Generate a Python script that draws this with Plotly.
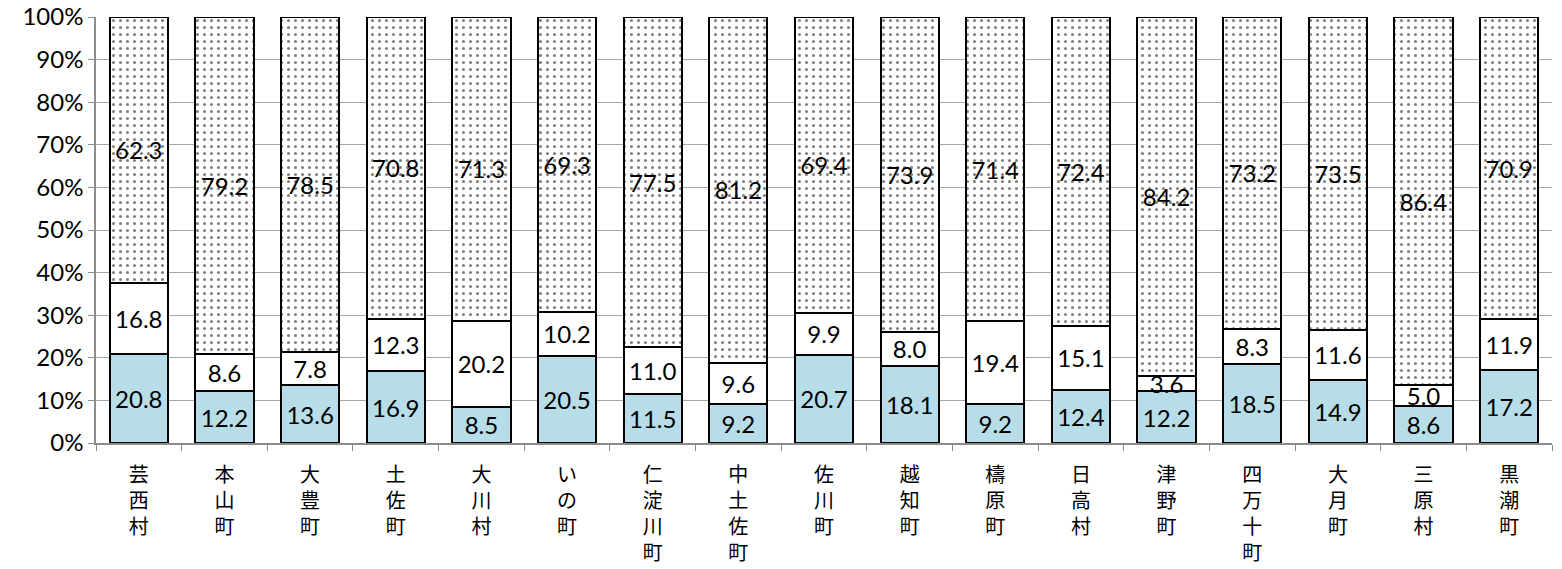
import plotly.graph_objects as go

# Municipalities (x-axis categories)
towns = ["芸西村", "本山町", "大豊町", "土佐町", "大川村", "いの町", "仁淀川町", "中土佐町",
         "佐川町", "越知町", "檮原町", "日高村", "津野町", "四万十町", "大月町", "三原村", "黒潮町"]

# Share of each segment (%), bottom to top
bottom_vals = [20.8, 12.2, 13.6, 16.9, 8.5, 20.5, 11.5, 9.2, 20.7, 18.1, 9.2, 12.4, 12.2, 18.5, 14.9, 8.6, 17.2]
middle_vals = [16.8, 8.6, 7.8, 12.3, 20.2, 10.2, 11.0, 9.6, 9.9, 8.0, 19.4, 15.1, 3.6, 8.3, 11.6, 5.0, 11.9]
top_vals = [62.3, 79.2, 78.5, 70.8, 71.3, 69.3, 77.5, 81.2, 69.4, 73.9, 71.4, 72.4, 84.2, 73.2, 73.5, 86.4, 70.9]

y_ticks = [0, 10, 20, 30, 40, 50, 60, 70, 80, 90, 100]
y_tick_text = [f"{v}%" for v in y_ticks]

# Vertical category labels: one character per line
tick_labels = ["<br>".join(list(t)) for t in towns]

num_font = dict(family="Lato, 'Noto Sans', sans-serif", size=24, color="black")
line = dict(color="black", width=2)

fig = go.Figure()
fig.add_bar(x=towns, y=bottom_vals, text=[f"{v:.1f}" for v in bottom_vals],
            marker=dict(color="#b7dde8", line=line))
fig.add_bar(x=towns, y=middle_vals, text=[f"{v:.1f}" for v in middle_vals],
            marker=dict(color="white", line=line))
fig.add_bar(x=towns, y=top_vals, text=[f"{v:.1f}" for v in top_vals],
            marker=dict(color="white", line=line,
                        pattern=dict(shape=".", fgcolor="black", bgcolor="white",
                                     size=7, solidity=0.15, fillmode="overlay")))

fig.update_traces(textposition="inside", insidetextanchor="middle", textangle=0,
                  textfont=num_font, cliponaxis=True, hoverinfo="skip")

fig.update_layout(
    barmode="stack",
    barnorm="percent",
    bargap=0.32,
    width=1562, height=569,
    margin=dict(l=96, r=10, t=17, b=126),
    paper_bgcolor="white", plot_bgcolor="white",
    showlegend=False,
    uniformtext=dict(mode="show", minsize=24),
    font=dict(family="Lato, 'Noto Sans', sans-serif", color="black"),
)
fig.update_yaxes(range=[0, 100], tickvals=y_ticks, ticktext=y_tick_text,
                 automargin=False,
                 showgrid=True, gridcolor="#a6a6a6", gridwidth=1,
                 showline=True, linecolor="#8c8c8c", linewidth=1.5,
                 ticks="outside", ticklen=6, tickcolor="#8c8c8c",
                 tickfont=dict(family="Lato, 'Noto Sans', sans-serif", size=24, color="black"),
                 zeroline=False)
fig.update_xaxes(tickvals=towns, ticktext=tick_labels, tickson="boundaries",
                 automargin=False,
                 showline=True, linecolor="#8c8c8c", linewidth=1.5,
                 ticks="outside", ticklen=6, tickcolor="#8c8c8c",
                 tickangle=0, ticklabelstandoff=13,
                 tickfont=dict(family="'Noto Sans CJK JP', sans-serif", size=20, color="black"))

fig.write_html("out.html")
